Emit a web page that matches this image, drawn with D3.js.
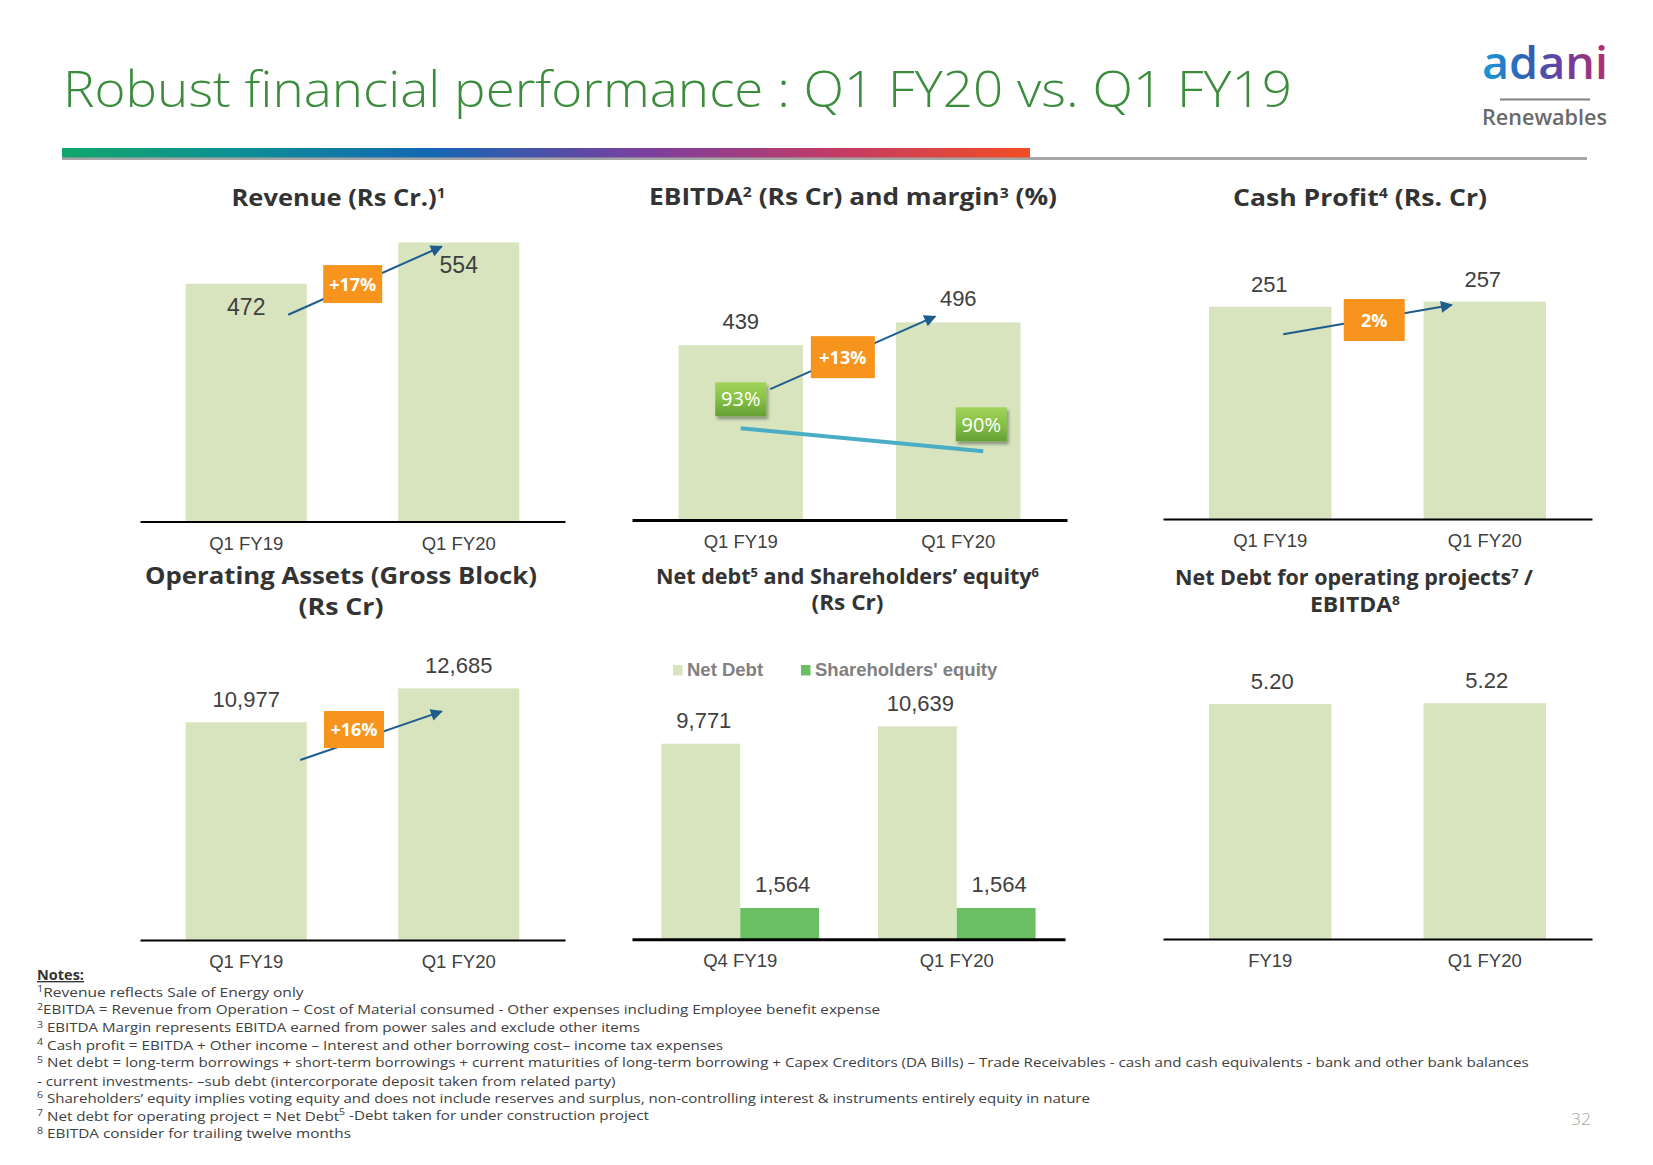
<!DOCTYPE html>
<html><head><meta charset="utf-8">
<script src="https://cdn.jsdelivr.net/npm/d3@7"></script>
<style>
html,body{margin:0;padding:0;background:#fff;}
svg{display:block;}
</style></head><body>
<svg id="slide" width="1653" height="1165"></svg>
<script>
// ---------------- DATA ----------------
const slideTitle = "Robust financial performance : Q1 FY20 vs. Q1 FY19";
const logoWord = "adani";
const logoSub = "Renewables";

const revCategories = ["Q1 FY19", "Q1 FY20"];
const revValues = [472, 554];
const revGrowth = "+17%";

const ebitdaCategories = ["Q1 FY19", "Q1 FY20"];
const ebitdaValues = [439, 496];
const ebitdaMargins = [93, 90];
const ebitdaGrowth = "+13%";

const cashCategories = ["Q1 FY19", "Q1 FY20"];
const cashValues = [251, 257];
const cashGrowth = "2%";

const assetCategories = ["Q1 FY19", "Q1 FY20"];
const assetValues = [10977, 12685];
const assetGrowth = "+16%";

const debtCategories = ["Q4 FY19", "Q1 FY20"];
const debtSeries = ["Net Debt", "Shareholders' equity"];
const netDebtValues = [9771, 10639];
const equityValues = [1564, 1564];

const ratioCategories = ["FY19", "Q1 FY20"];
const ratioValues = [5.20, 5.22];

const panelTitles = {
  rev: ["Revenue (Rs Cr.){1}"],
  ebitda: ["EBITDA{2} (Rs Cr) and margin{3} (%)"],
  cash: ["Cash Profit{4} (Rs. Cr)"],
  asset: ["Operating Assets (Gross Block)", "(Rs Cr)"],
  debt: ["Net debt{5} and Shareholders\u2019 equity{6}", "(Rs Cr)"],
  ratio: ["Net Debt for operating projects{7} /", "EBITDA{8}"]
};

const notesHeader = "Notes:";
const notes = [
  "{1}Revenue reflects Sale of Energy only",
  "{2}EBITDA = Revenue from Operation \u2013 Cost of Material consumed  - Other expenses including Employee benefit expense",
  "{3} EBITDA Margin represents EBITDA earned from power sales and exclude other items",
  "{4} Cash profit = EBITDA + Other income \u2013 Interest and other borrowing cost\u2013 income tax expenses",
  "{5} Net debt = long-term borrowings + short-term borrowings + current maturities of long-term borrowing + Capex Creditors (DA Bills) \u2013 Trade Receivables - cash and cash equivalents - bank and other bank balances",
  "- current investments- \u2013sub debt (intercorporate deposit taken from related party)",
  "{6} Shareholders\u2019 equity implies voting equity and does not include reserves and surplus, non-controlling interest & instruments entirely equity in nature",
  "{7} Net debt for operating project = Net Debt{5} -Debt taken for under construction project",
  "{8} EBITDA consider for trailing twelve months"
];
const pageNumber = "32";

// ---------------- STYLE / LAYOUT ----------------
const C = {
  title: "#3b8c3c", bar: "#d7e4bd", equity: "#6bbf63", orange: "#f7941d",
  arrow: "#1f5c8e", margin: "#4bacc6", text: "#404040", head: "#333333"
};
const FONT_HEAD = "'Open Sans', 'Noto Sans', sans-serif";
const FONT_NUM = "'Liberation Sans', Arial, sans-serif";

const svg = d3.select("#slide");
const defs = svg.append("defs");

const rule = defs.append("linearGradient").attr("id", "ruleGrad")
  .attr("gradientUnits", "userSpaceOnUse").attr("x1", 62).attr("x2", 1030).attr("y1", 0).attr("y2", 0);
[[0, "#12a66a"], [0.18, "#0e8f95"], [0.38, "#1467b4"], [0.6, "#7a3f9f"], [0.8, "#c23b66"], [1, "#f24e22"]]
  .forEach(([o, c]) => rule.append("stop").attr("offset", o).attr("stop-color", c));

const lg = defs.append("linearGradient").attr("id", "logoGrad")
  .attr("gradientUnits", "userSpaceOnUse").attr("x1", 1482).attr("x2", 1608).attr("y1", 0).attr("y2", 0);
[[0, "#1a9ad8"], [0.35, "#2f62b3"], [0.65, "#6b3fa1"], [1, "#b72f6a"]]
  .forEach(([o, c]) => lg.append("stop").attr("offset", o).attr("stop-color", c));

const gg = defs.append("linearGradient").attr("id", "greenBox").attr("x1", 0).attr("x2", 0).attr("y1", 0).attr("y2", 1);
[[0, "#a2d35a"], [0.5, "#86c046"], [1, "#62a034"]].forEach(([o, c]) => gg.append("stop").attr("offset", o).attr("stop-color", c));

defs.append("filter").attr("id", "shadow").attr("x", "-20%").attr("y", "-20%").attr("width", "150%").attr("height", "160%")
  .append("feDropShadow").attr("dx", 2).attr("dy", 3).attr("stdDeviation", 1.5).attr("flood-color", "#000").attr("flood-opacity", 0.35);

defs.append("marker").attr("id", "arrowHead").attr("viewBox", "0 0 10 10").attr("refX", 9).attr("refY", 5)
  .attr("markerUnits", "userSpaceOnUse").attr("markerWidth", 15).attr("markerHeight", 12).attr("orient", "auto")
  .append("path").attr("d", "M0,0L10,5L0,10Z").attr("fill", C.arrow);

// rich text helper: {n} -> superscript (no empty tspans)
function rich(textSel, str, supScale) {
  const parts = str.split(/\{(\d)\}/);
  let reset = false;
  parts.forEach((p, i) => {
    if (p === "") return;
    if (i % 2 === 1) {
      textSel.append("tspan").attr("font-size", (supScale || 0.62) + "em").attr("dy", "-0.55em").text(p);
      reset = true;
    } else {
      const ts = textSel.append("tspan").text(p);
      if (reset) { ts.attr("dy", "0.34em"); reset = false; }
    }
  });
}

// ---------------- HEADER ----------------
svg.append("text").attr("x", 63).attr("y", 106.5)
  .attr("font-family", FONT_HEAD).attr("font-weight", 300).attr("font-size", 49)
  .attr("fill", C.title).attr("textLength", 1229).attr("lengthAdjust", "spacingAndGlyphs")
  .text(slideTitle);

svg.append("line").attr("x1", 62).attr("x2", 1587).attr("y1", 158.5).attr("y2", 158.5)
  .attr("stroke", "#a6a6a6").attr("stroke-width", 3);
svg.append("rect").attr("x", 62).attr("y", 148).attr("width", 968).attr("height", 9.5).attr("fill", "url(#ruleGrad)");

svg.append("text").attr("x", 1482).attr("y", 78.5)
  .attr("font-family", FONT_HEAD).attr("font-weight", 600).attr("font-size", 46)
  .attr("fill", "url(#logoGrad)").attr("textLength", 126).attr("lengthAdjust", "spacingAndGlyphs")
  .text(logoWord);
svg.append("line").attr("x1", 1500).attr("x2", 1590).attr("y1", 99.5).attr("y2", 99.5)
  .attr("stroke", "#808080").attr("stroke-width", 2);
svg.append("text").attr("x", 1482).attr("y", 124.5)
  .attr("font-family", FONT_HEAD).attr("font-weight", 600).attr("font-size", 21)
  .attr("fill", "#6a6a6a").attr("textLength", 125).attr("lengthAdjust", "spacingAndGlyphs")
  .text(logoSub);

// ---------------- PANEL TITLES ----------------
const titleLayout = {
  rev: [{x: 231.5, y: 206, w: 214, fs: 23}],
  ebitda: [{x: 649, y: 205, w: 408, fs: 23}],
  cash: [{x: 1233, y: 205.5, w: 254, fs: 23}],
  asset: [{x: 145, y: 583.5, w: 392, fs: 23}, {x: 298.5, y: 615, w: 85, fs: 23}],
  debt: [{x: 656, y: 583.5, w: 383, fs: 21}, {x: 811.5, y: 609.5, w: 72, fs: 21}],
  ratio: [{x: 1175, y: 585, w: 358, fs: 21}, {x: 1310, y: 611.5, w: 90, fs: 21}]
};
Object.keys(panelTitles).forEach(k => {
  panelTitles[k].forEach((line, i) => {
    const L = titleLayout[k][i];
    const t = svg.append("text").attr("x", L.x).attr("y", L.y)
      .attr("font-family", FONT_HEAD).attr("font-weight", 700).attr("font-size", L.fs)
      .attr("fill", C.head).attr("textLength", L.w).attr("lengthAdjust", "spacingAndGlyphs");
    rich(t, line, 0.6);
  });
});

// ---------------- BAR PANELS ----------------
function barPanel(p) {
  const g = svg.append("g");
  const x = d3.scaleBand().domain(p.categories).range(p.xRange).paddingInner(p.padInner).paddingOuter(p.padInner / 2);
  const y = d3.scaleLinear().domain([0, p.yMax]).range([p.axisY, p.yTop]);
  const cx = c => x(c) + x.bandwidth() / 2;

  g.selectAll("rect.bar").data(p.values).join("rect").attr("class", "bar")
    .attr("x", (d, i) => x(p.categories[i])).attr("y", d => y(d))
    .attr("width", x.bandwidth()).attr("height", d => y(0) - y(d)).attr("fill", C.bar);

  const ax = g.append("g").attr("transform", `translate(0,${p.axisY})`)
    .call(d3.axisBottom(x).tickSize(0).tickSizeOuter(0).tickPadding(15));
  ax.select(".domain").attr("stroke", "#000").attr("stroke-width", p.axisW);
  ax.selectAll(".tick text").attr("font-family", FONT_NUM).attr("font-size", 18.5).attr("fill", C.text);

  g.selectAll("text.val").data(p.values).join("text").attr("class", "val")
    .attr("x", (d, i) => cx(p.categories[i]) + (p.labelDx ? p.labelDx[i] : 0))
    .attr("y", d => y(d) + p.labelDy)
    .attr("text-anchor", "middle").attr("font-family", FONT_NUM).attr("font-size", p.labelFs || 22)
    .attr("fill", C.text).text(d => p.fmt(d));

  if (p.growth) {
    const a = p.arrow;
    const x1 = cx(p.categories[0]) + a.dx[0], y1 = y(p.values[0]) + a.dy[0];
    const x2 = cx(p.categories[1]) + a.dx[1], y2 = y(p.values[1]) + a.dy[1];
    g.append("line").attr("x1", x1).attr("y1", y1).attr("x2", x2).attr("y2", y2)
      .attr("stroke", C.arrow).attr("stroke-width", 2).attr("marker-end", "url(#arrowHead)");
    const bx = x1 + (x2 - x1) * a.t, by = y1 + (y2 - y1) * a.t + a.boxDy;
    g.append("rect").attr("x", bx - a.bw / 2).attr("y", by - a.bh / 2).attr("width", a.bw).attr("height", a.bh)
      .attr("fill", C.orange);
    g.append("text").attr("x", bx).attr("y", by).attr("dy", "0.36em").attr("text-anchor", "middle")
      .attr("font-family", FONT_HEAD).attr("font-weight", 700).attr("font-size", 18).attr("fill", "#fff")
      .text(p.growth);
  }
  return {g, x, y, cx};
}

barPanel({
  categories: revCategories, values: revValues, xRange: [140, 565], padInner: 0.43,
  yMax: 600, axisY: 521.5, yTop: 219.3, axisW: 2, labelDy: 31, labelFs: 23, fmt: d3.format(","),
  growth: revGrowth, arrow: {dx: [42, -17], dy: [31, 4], t: 0.42, boxDy: -2, bw: 59, bh: 38}
});

const eb = barPanel({
  categories: ebitdaCategories, values: ebitdaValues, xRange: [632, 1067], padInner: 0.428,
  yMax: 600, axisY: 520, yTop: 281, axisW: 3, labelDy: -16, fmt: d3.format(","),
  growth: ebitdaGrowth, arrow: {dx: [29.5, -23], dy: [44, -6], t: 0.44, boxDy: 0, bw: 64, bh: 42}
});

// EBITDA margin line and badges
(function () {
  const my = d3.scaleLinear().domain([80, 100]).range([528, 374.6]);
  const pts = ebitdaMargins.map((m, i) => [eb.cx(ebitdaCategories[i]) + [0, 25][i], my(m)]);
  eb.g.append("path").attr("d", d3.line()(pts)).attr("fill", "none")
    .attr("stroke", C.margin).attr("stroke-width", 4);
  const bdx = [0, 23], bdy = [-29, -27];
  ebitdaMargins.forEach((m, i) => {
    const bx = eb.cx(ebitdaCategories[i]) + bdx[i], by = my(m) + bdy[i];
    eb.g.append("rect").attr("x", bx - 25.5).attr("y", by - 17).attr("width", 51).attr("height", 34)
      .attr("fill", "url(#greenBox)").attr("filter", "url(#shadow)");
    eb.g.append("text").attr("x", bx).attr("y", by).attr("dy", "0.36em").attr("text-anchor", "middle")
      .attr("font-family", FONT_HEAD).attr("font-size", 20).attr("fill", "#fff").text(m + "%");
  });
})();

barPanel({
  categories: cashCategories, values: cashValues, xRange: [1163, 1592], padInner: 0.429,
  yMax: 300, axisY: 519, yTop: 265.3, axisW: 2, labelDy: -15, labelDx: [-1, -2], fmt: d3.format(","),
  growth: cashGrowth, arrow: {dx: [13, -33], dy: [27.6, 3.4], t: 0.54, boxDy: 1.5, bw: 61, bh: 42}
});

barPanel({
  categories: assetCategories, values: assetValues, xRange: [140, 565], padInner: 0.43,
  yMax: 14000, axisY: 940, yTop: 662.3, axisW: 2, labelDy: -15, fmt: d3.format(","),
  growth: assetGrowth, arrow: {dx: [54, -17], dy: [37.7, 23], t: 0.38, boxDy: -12, bw: 60, bh: 37}
});

barPanel({
  categories: ratioCategories, values: ratioValues, xRange: [1163, 1592], padInner: 0.429,
  yMax: 6, axisY: 939, yTop: 667.9, axisW: 2, labelDy: -15.5, labelDx: [2, 2], fmt: d3.format(".2f")
});

// Net debt & equity grouped panel
(function () {
  const g = svg.append("g");
  const x0 = d3.scaleBand().domain(debtCategories).range([632, 1065]).paddingInner(0.272).paddingOuter(0.136);
  const x1 = d3.scaleBand().domain(debtSeries).range([0, x0.bandwidth()]);
  const y = d3.scaleLinear().domain([0, 12000]).range([939.3, 699.1]);
  const color = d3.scaleOrdinal().domain(debtSeries).range([C.bar, C.equity]);
  const rows = debtCategories.map((c, i) => ({c, vals: [netDebtValues[i], equityValues[i]]}));

  const grp = g.selectAll("g.grp").data(rows).join("g").attr("class", "grp")
    .attr("transform", d => `translate(${x0(d.c)},0)`);
  grp.selectAll("rect").data(d => d.vals.map((v, j) => ({s: debtSeries[j], v}))).join("rect")
    .attr("x", d => x1(d.s)).attr("y", d => y(d.v)).attr("width", x1.bandwidth())
    .attr("height", d => y(0) - y(d.v)).attr("fill", d => color(d.s));
  grp.selectAll("text").data(d => d.vals.map((v, j) => ({s: debtSeries[j], v}))).join("text")
    .attr("x", d => x1(d.s) + x1.bandwidth() / 2 + 3).attr("y", d => y(d.v) - 15.5)
    .attr("text-anchor", "middle").attr("font-family", FONT_NUM).attr("font-size", 22)
    .attr("fill", C.text).text(d => d3.format(",")(d.v));

  const ax = g.append("g").attr("transform", `translate(0,939.3)`)
    .call(d3.axisBottom(x0).tickSize(0).tickSizeOuter(0).tickPadding(15));
  ax.select(".domain").attr("stroke", "#000").attr("stroke-width", 3);
  ax.selectAll(".tick text").attr("font-family", FONT_NUM).attr("font-size", 18.5).attr("fill", C.text);

  // legend
  const legX = [673, 801];
  const leg = g.selectAll("g.leg").data(debtSeries).join("g").attr("class", "leg")
    .attr("transform", (d, i) => `translate(${legX[i]},665)`);
  leg.append("rect").attr("width", 9.5).attr("height", 10.5).attr("fill", d => color(d));
  leg.append("text").attr("x", 14).attr("y", 10.5).attr("font-family", FONT_NUM).attr("font-weight", 700)
    .attr("font-size", 18.5).attr("fill", "#808080").text(d => d);
})();

// ---------------- NOTES ----------------
svg.append("text").attr("x", 37).attr("y", 980).attr("font-family", FONT_HEAD).attr("font-weight", 700)
  .attr("font-size", 13.5).attr("fill", C.head).attr("text-decoration", "underline")
  .attr("textLength", 47).attr("lengthAdjust", "spacingAndGlyphs").text(notesHeader);

const noteEnds = [303.6, 880, 640, 723, 1528.6, 615.6, 1090, 649, 351];
notes.forEach((n, i) => {
  const t = svg.append("text").attr("x", 37).attr("y", 997.3 + i * 17.7)
    .attr("font-family", FONT_HEAD).attr("font-size", 13.5).attr("fill", C.text)
    .attr("textLength", noteEnds[i] - 37).attr("lengthAdjust", "spacingAndGlyphs");
  rich(t, n, 0.7);
});

svg.append("text").attr("x", 1571).attr("y", 1125).attr("font-family", FONT_HEAD).attr("font-weight", 300)
  .attr("font-size", 17).attr("fill", "#a6a6a6").attr("textLength", 20).attr("lengthAdjust", "spacingAndGlyphs")
  .text(pageNumber);
</script></body></html>
